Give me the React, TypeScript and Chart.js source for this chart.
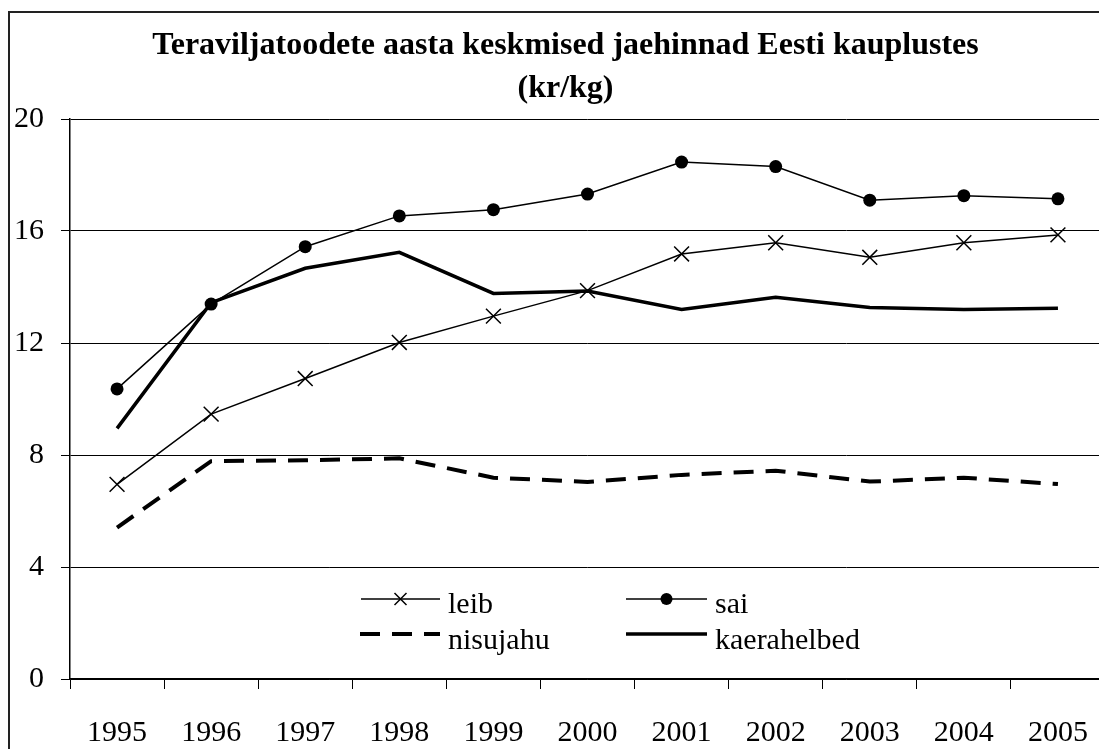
import React, { useEffect, useRef } from 'react';
import { Chart, registerables } from 'chart.js';

Chart.register(...registerables);

const years = ['1995', '1996', '1997', '1998', '1999', '2000', '2001', '2002', '2003', '2004', '2005'];
const leib = [6.95, 9.46, 10.73, 12.02, 12.96, 13.87, 15.18, 15.58, 15.06, 15.58, 15.86];
const sai = [10.36, 13.39, 15.44, 16.54, 16.76, 17.32, 18.46, 18.3, 17.1, 17.26, 17.15];
const nisujahu = [5.41, 7.78, 7.81, 7.88, 7.19, 7.04, 7.29, 7.44, 7.05, 7.19, 6.96];
const kaerahelbed = [8.95, 13.44, 14.67, 15.24, 13.77, 13.86, 13.2, 13.63, 13.27, 13.2, 13.24];
const titleLines = ['Teraviljatoodete aasta keskmised jaehinnad Eesti kauplustes', '(kr/kg)'];

const FONT = '"Liberation Serif", "Times New Roman", Times, serif';
const CW = 1120;
const CH = 760;

// title placement (style only)
const titlePos = { x: 565.5, baselines: [54, 97] };

// legend placement (style only)
const legendSlots = [
  { x1: 361, x2: 440, y: 599, tx: 448, ty: 613 },
  { x1: 626, x2: 707, y: 599, tx: 715, ty: 613 },
  { x1: 360, x2: 440, y: 634, tx: 448, ty: 649 },
  { x1: 626, x2: 707, y: 634, tx: 715, ty: 649 },
];

const titlePlugin = {
  id: 'customTitle',
  afterDraw(chart: any) {
    const ctx = chart.ctx as CanvasRenderingContext2D;
    ctx.save();
    ctx.fillStyle = '#000';
    ctx.font = `bold 32px ${FONT}`;
    ctx.textAlign = 'center';
    ctx.textBaseline = 'alphabetic';
    titleLines.forEach((t, i) => ctx.fillText(t, titlePos.x, titlePos.baselines[i]));
    ctx.restore();
  },
};

const legendPlugin = {
  id: 'customLegend',
  afterDraw(chart: any) {
    const ctx = chart.ctx as CanvasRenderingContext2D;
    chart.data.datasets.forEach((ds: any, i: number) => {
      const s = legendSlots[i];
      ctx.save();
      ctx.strokeStyle = '#000';
      ctx.lineWidth = ds.borderWidth;
      ctx.setLineDash(ds.borderDash || []);
      ctx.beginPath();
      ctx.moveTo(s.x1, s.y);
      ctx.lineTo(s.x2, s.y);
      ctx.stroke();
      ctx.setLineDash([]);
      const mx = (s.x1 + s.x2) / 2;
      if (ds.pointStyle === 'circle' && ds.pointRadius > 0) {
        ctx.fillStyle = '#000';
        ctx.beginPath();
        ctx.arc(mx, s.y, 6, 0, Math.PI * 2);
        ctx.fill();
      } else if (ds.pointStyle === 'crossRot' && ds.pointRadius > 0) {
        const h = 6;
        ctx.lineWidth = 1.5;
        ctx.beginPath();
        ctx.moveTo(mx - h, s.y - h);
        ctx.lineTo(mx + h, s.y + h);
        ctx.moveTo(mx - h, s.y + h);
        ctx.lineTo(mx + h, s.y - h);
        ctx.stroke();
      }
      ctx.fillStyle = '#000';
      ctx.font = `30px ${FONT}`;
      ctx.textBaseline = 'alphabetic';
      ctx.textAlign = 'left';
      ctx.fillText(ds.label, s.tx, s.ty);
      ctx.restore();
    });
  },
};

export default function App() {
  const ref = useRef<HTMLCanvasElement | null>(null);

  useEffect(() => {
    if (!ref.current) return;
    const chart = new Chart(ref.current, {
      type: 'line',
      data: {
        labels: years,
        datasets: [
          {
            label: 'leib',
            data: leib,
            borderColor: '#000',
            backgroundColor: '#000',
            borderWidth: 1.5,
            pointStyle: 'crossRot',
            pointRadius: 10.5,
            pointBorderWidth: 1.5,
            pointBorderColor: '#000',
            tension: 0,
          },
          {
            label: 'sai',
            data: sai,
            borderColor: '#000',
            backgroundColor: '#000',
            borderWidth: 1.5,
            pointStyle: 'circle',
            pointRadius: 6.5,
            pointBorderWidth: 0,
            pointBackgroundColor: '#000',
            tension: 0,
          },
          {
            label: 'nisujahu',
            data: nisujahu,
            borderColor: '#000',
            borderWidth: 4,
            borderDash: [20, 12],
            pointRadius: 0,
            tension: 0,
          },
          {
            label: 'kaerahelbed',
            data: kaerahelbed,
            borderColor: '#000',
            borderWidth: 3.5,
            pointRadius: 0,
            tension: 0,
          },
        ],
      },
      options: {
        responsive: false,
        animation: false,
        events: [],
        layout: { padding: { left: 6, right: 15, top: 119, bottom: 0 } },
        plugins: {
          legend: { display: false },
          tooltip: { enabled: false },
          title: { display: false },
        },
        scales: {
          x: {
            type: 'category',
            offset: true,
            grid: {
              display: true,
              drawOnChartArea: false,
              drawTicks: true,
              tickLength: 10,
              offset: true,
              color: '#000',
              lineWidth: 1,
            },
            border: { display: true, color: '#000', width: 1.5 },
            ticks: {
              color: '#000',
              font: { family: FONT, size: 30 },
              padding: 26,
              maxRotation: 0,
              autoSkip: false,
            },
            afterFit: (s: any) => {
              s.height = CH - 679;
            },
          },
          y: {
            min: 0,
            max: 20,
            grid: {
              color: '#000',
              lineWidth: 1,
              drawTicks: true,
              tickLength: 9,
            },
            border: { display: true, color: '#000', width: 1.5 },
            ticks: {
              stepSize: 4,
              color: '#000',
              font: { family: FONT, size: 30 },
              padding: 17,
            },
            afterFit: (s: any) => {
              s.width = 64;
            },
          },
        },
      },
      plugins: [titlePlugin, legendPlugin],
    });
    return () => chart.destroy();
  }, []);

  return (
    <div
      style={{
        position: 'fixed',
        left: 0,
        top: 0,
        width: 1099,
        height: 749,
        overflow: 'hidden',
        background: '#fff',
      }}
    >
      <div
        style={{
          position: 'absolute',
          left: 8,
          top: 11,
          width: 1400,
          height: 1000,
          borderLeft: '2px solid #222',
          borderTop: '2px solid #222',
        }}
      />
      <canvas
        ref={ref}
        width={CW}
        height={CH}
        style={{ position: 'absolute', left: 0, top: 0, width: CW, height: CH }}
      />
    </div>
  );
}
